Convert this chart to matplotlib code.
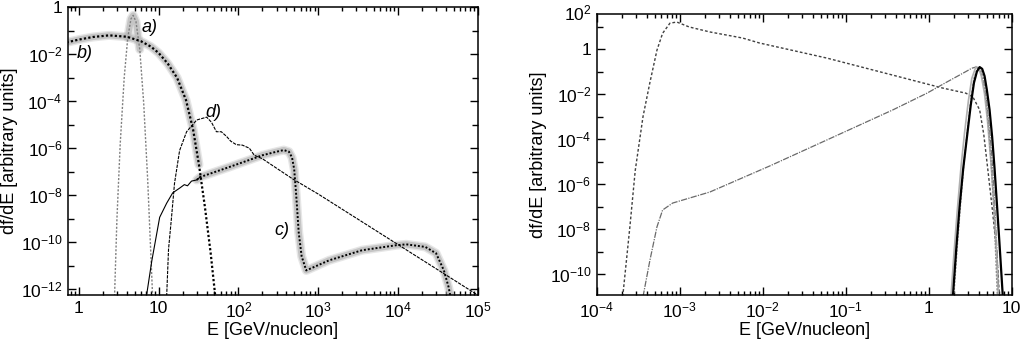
import numpy as np
import matplotlib
matplotlib.use("Agg")
import matplotlib.pyplot as plt
from matplotlib.ticker import FixedLocator, NullFormatter, FuncFormatter

plt.rcParams['font.family'] = ['Liberation Sans', 'DejaVu Sans']
plt.rcParams['mathtext.fontset'] = 'custom'
plt.rcParams['mathtext.rm'] = 'Liberation Sans'
plt.rcParams['mathtext.it'] = 'Liberation Sans:italic'
plt.rcParams['axes.linewidth'] = 1.1

# ---------------- left panel (E in GeV/nucleon, log10 of df/dE) ----------------
a_E   = [2.8, 3.0, 3.3, 3.7, 4.1, 4.5, 4.8, 5.2, 5.8, 6.5, 7.3, 8.4]
a_lg  = [-12.3, -9.0, -5.8, -3.0, -1.3, -0.5, -0.35, -0.62, -1.8, -4.1, -7.4, -12.3]

b_E   = [0.7, 1, 1.5, 2.4, 4, 6, 8, 10, 13, 17, 22, 27, 32, 38, 45, 52]
b_lg  = [-1.5, -1.38, -1.27, -1.2, -1.26, -1.45, -1.68, -1.95, -2.4, -3.0,
         -3.95, -5.2, -6.7, -8.5, -10.5, -12.5]

c_E   = [7.1, 8.2, 10.3, 12.6, 15, 18.3, 21, 23, 25.8, 30, 33, 77, 137, 200,
         300, 370, 430, 470, 500, 530, 570, 620, 708, 1370, 3550, 9400,
         12700, 22000, 30000, 37600, 43000, 46000]
c_lg  = [-12.2, -10.8, -8.94, -8.34, -7.9, -7.7, -7.55, -7.6, -7.4, -7.35,
         -7.23, -6.8, -6.5, -6.3, -6.15, -6.08, -6.15, -6.4, -6.9, -8.0, -9.6,
         -10.6, -11.2, -10.77, -10.34, -10.13, -10.09, -10.2, -10.47, -11.2,
         -11.9, -12.4]

d_E   = [12.6, 13.3, 14.5, 15.8, 18.3, 22.4, 30, 40, 46, 53, 61, 71, 80, 94,
         112, 137, 158, 200, 300, 475, 1e3, 1e4, 1e5]
d_lg  = [-12.3, -10.3, -8.94, -7.5, -6.1, -5.3, -4.8, -4.68, -4.9, -5.3, -5.3,
         -5.5, -5.7, -5.85, -5.87, -6.0, -6.3, -6.45, -6.85, -7.3, -7.95,
         -10.1, -12.25]

# ---------------- right panel ----------------
dot_E  = [2.05e-4, 2.5e-4, 2.9e-4, 3.6e-4, 4.35e-4, 5.3e-4, 6.2e-4, 7.6e-4,
          9.2e-4, 1.3e-3, 2.3e-3, 5.7e-3, 9.1e-3, 5.9e-2, 0.37, 1.46, 2.8,
          3.4, 4.1, 4.6, 5.2, 5.9, 6.6, 7.1]
dot_lg = [-11, -7.9, -5.4, -3.0, -1.5, -0.05, 0.7, 1.15, 1.2, 0.98, 0.76,
          0.49, 0.27, -0.4, -1.16, -1.73, -1.96, -2.13, -2.7, -3.8, -5.5,
          -7.3, -9.1, -11]

dd_E   = [3.6e-4, 4.35e-4, 5.3e-4, 6.2e-4, 8.2e-4, 2.3e-3, 1.2e-2, 5.9e-2,
          0.37, 0.95, 1.64, 2.8, 3.3, 3.7, 4.1, 4.6, 5.0, 5.4, 5.8, 6.2, 6.6, 7.0]
dd_lg  = [-11, -9.4, -7.9, -7.15, -6.84, -6.35, -5.2, -4.04, -2.7, -1.96,
          -1.47, -1.0, -0.85, -0.8, -0.9, -1.5, -2.4, -3.6, -5.0, -6.8, -8.8, -11]

pk1_E  = [1.95, 2.15, 2.35, 2.6, 2.95, 3.2, 3.5, 3.8, 4.1, 4.4, 4.7, 5.0,
          5.4, 5.8, 6.2, 6.6, 7.1, 7.8]
pk1_lg = [-11, -8.8, -7.0, -5.3, -3.6, -2.5, -1.5, -1.0, -0.8, -0.88, -1.2,
          -1.8, -2.7, -3.9, -5.3, -6.8, -8.6, -11]
pk2_E  = [1.85, 2.0, 2.2, 2.45, 2.7, 3.0, 3.3, 3.7, 4.0, 4.3, 4.7, 5.1,
          5.6, 6.0, 6.4, 6.9]
pk2_lg = [-11, -9.2, -7.2, -5.2, -3.7, -2.3, -1.3, -0.78, -0.85, -1.2, -2.0,
          -3.2, -5.0, -6.6, -8.3, -11]
pk3_E  = [2.0, 2.2, 2.4, 2.65, 2.9, 3.2, 3.5, 3.9, 4.2, 4.5, 4.9, 5.3, 5.7,
          6.1, 6.7]
pk3_lg = [-11, -8.8, -7.0, -5.1, -3.7, -2.3, -1.3, -0.8, -0.88, -1.2, -2.2,
          -3.6, -5.3, -7.2, -11]

LEFT_XEXP  = [0, 1, 2, 3, 4, 5]
LEFT_YEXP  = [0, -2, -4, -6, -8, -10, -12]
RIGHT_XEXP = [-4, -3, -2, -1, 0, 1]
RIGHT_YEXP = [0, -2, -4, -6, -8, -10]


def pw(lg):
    return 10.0 ** np.asarray(lg)


def exp_label(v, pos=None):
    e = int(round(np.log10(v)))
    if e == 0:
        return "1"
    if e == 1:
        return "10"
    return r"$\mathregular{10^{%d}}$" % e


def style_axis(ax, xexp, yexp):
    ax.set_xscale('log')
    ax.set_yscale('log')
    ax.xaxis.set_major_locator(FixedLocator([10.0 ** e for e in xexp]))
    ax.xaxis.set_major_formatter(FuncFormatter(exp_label))
    xmin = [m * 10.0 ** e for e in range(min(xexp) - 1, max(xexp) + 1)
            for m in range(2, 10)]
    ax.xaxis.set_minor_locator(FixedLocator(xmin))
    ax.xaxis.set_minor_formatter(NullFormatter())
    ax.yaxis.set_major_locator(FixedLocator([10.0 ** e for e in yexp]))
    ax.yaxis.set_major_formatter(FuncFormatter(exp_label))
    ymin = [10.0 ** (e + 1) for e in yexp] + [10.0 ** (min(yexp) - 1)]
    ax.yaxis.set_minor_locator(FixedLocator(ymin))
    ax.yaxis.set_minor_formatter(NullFormatter())
    ax.tick_params(which='both', direction='in', top=True, right=True,
                   labelsize=12.5, width=1.0, pad=4)
    ax.tick_params(which='major', length=6)
    ax.tick_params(axis='x', which='minor', length=3)
    ax.tick_params(axis='y', which='minor', length=4)
    ax.set_xlabel("E [GeV/nucleon]", fontsize=13, labelpad=1)
    ax.set_ylabel("df/dE [arbitrary units]", fontsize=13, labelpad=2)


fig = plt.figure(figsize=(10.22, 3.4), dpi=100)
ax1 = fig.add_axes([0.0665, 0.132, 0.401, 0.847])
ax2 = fig.add_axes([0.584, 0.132, 0.406, 0.827])

# --- left ---
aE, aV = np.array(a_E), pw(a_lg)
bE, bV = np.array(b_E), pw(b_lg)
cE, cV = np.array(c_E), pw(c_lg)
halo = dict(color='#b8b8b8', solid_capstyle='round', solid_joinstyle='round')

m_b = bE <= 32
m_a = (aE >= 4.0) & (aE <= 5.8)
m_c = cE >= 30
for lw, al in [(6.5, 0.35), (4.5, 0.7)]:
    ax1.plot(bE[m_b], bV[m_b], lw=lw, alpha=al, **halo)
    ax1.plot(aE[m_a], aV[m_a], lw=lw, alpha=al, **halo)
    ax1.plot(cE[m_c], cV[m_c], lw=lw, alpha=al, **halo)

ax1.plot(aE, aV, color='#808080', lw=1.0, ls=(0, (1.5, 1.2)))
ax1.plot(bE, bV, color='black', lw=1.6, ls=(0, (1, 1)))
m_lo = cE <= 33
ax1.plot(cE[m_lo], cV[m_lo], color='black', lw=0.8)
ax1.plot(cE[m_c], cV[m_c], color='black', lw=1.4, ls=(0, (1, 1)))
ax1.plot(d_E, pw(d_lg), color='black', lw=0.8, ls=(0, (3, 1)))

ax1.text(7.6, 10 ** -0.85, "a)", fontsize=13, fontstyle='italic', ha='center', va='center')
ax1.text(1.2, 10 ** -1.96, "b)", fontsize=13, fontstyle='italic', ha='center', va='center')
ax1.text(48, 10 ** -4.5, "d)", fontsize=13, fontstyle='italic', ha='center', va='center')
ax1.text(355, 10 ** -9.5, "c)", fontsize=13, fontstyle='italic', ha='center', va='center')

ax1.set_xlim(0.73, 1e5)
ax1.set_ylim(10 ** -12.25, 1.0)
style_axis(ax1, LEFT_XEXP, LEFT_YEXP)

# --- right ---
ax2.plot(dot_E, pw(dot_lg), color='#404040', lw=1.0, ls=(0, (2, 1.5)))
ax2.plot(dd_E, pw(dd_lg), color='#6a6a6a', lw=0.9, ls=(0, (5, 1, 1, 1)))
ax2.plot(pk2_E, pw(pk2_lg), color='#b0b0b0', lw=1.2)
ax2.plot(pk3_E, pw(pk3_lg), color='#909090', lw=1.0, ls=(0, (1.5, 1)))
ax2.plot(pk1_E, pw(pk1_lg), color='black', lw=1.6)

ax2.set_xlim(1e-4, 10)
ax2.set_ylim(10 ** -10.93, 10 ** 1.56)
style_axis(ax2, RIGHT_XEXP, RIGHT_YEXP)
ax2.yaxis.set_minor_locator(FixedLocator([10.0 ** e for e in [1, -1, -3, -5, -7, -9]]))
ax2.text(-0.012, 1.0, r"$\mathregular{10^{2}}$", transform=ax2.transAxes,
         ha='right', va='center', fontsize=12.5)

fig.savefig("out.png", dpi=100)
